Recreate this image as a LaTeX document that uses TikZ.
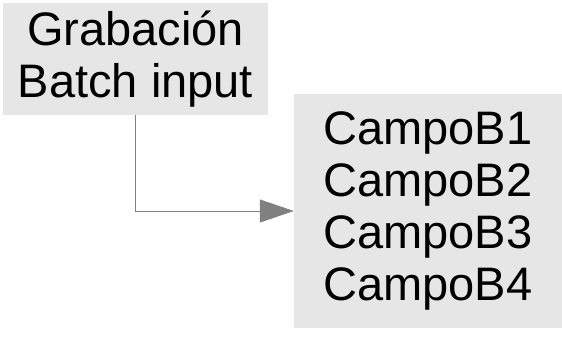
\documentclass[tikz,border=0pt]{standalone}
\usepackage{fontspec}
\setmainfont{Liberation Sans}
\usetikzlibrary{arrows.meta}
\definecolor{boxfill}{RGB}{230,230,230}
\definecolor{linegray}{RGB}{128,128,128}
\begin{document}
\begin{tikzpicture}[x=1bp,y=-1bp,
  box/.style={fill=boxfill, draw=none, inner sep=0pt, align=center,
    font=\fontsize{47bp}{52bp}\selectfont},
  conn/.style={draw=linegray, line width=0.8bp,
    -{Triangle[length=34bp,width=23bp,fill=linegray]}}]
\useasboundingbox (0,0) rectangle (562,337);
\node[box, minimum width=265bp, minimum height=112bp] (b1) at (135.5,59) {Grabación\\Batch input};
\node[box, minimum width=268bp, minimum height=234bp] (b2) at (428,211) {CampoB1\\CampoB2\\CampoB3\\CampoB4};
\draw[conn] (b1.south) |- (b2.west);
\end{tikzpicture}
\end{document}
